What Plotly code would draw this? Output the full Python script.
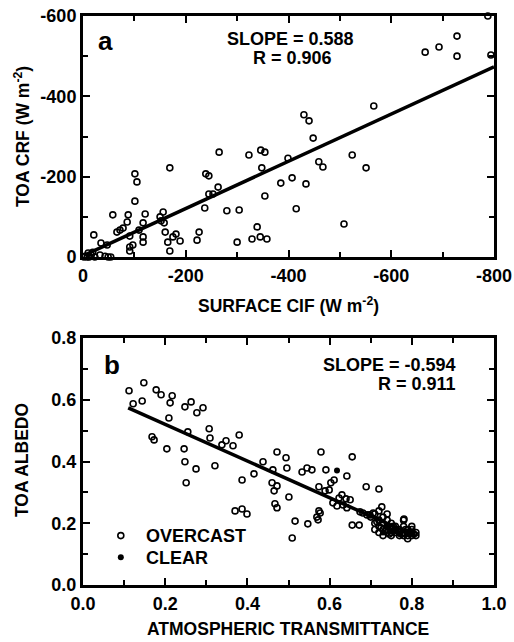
import numpy as np
import plotly.graph_objects as go

# ---------------- Panel a data ----------------
cif_x = [-2, -4, -8, -10, -12, -16, -19, -23, -33, -43, -49, -54,
         -21, -35, -47, -58, -66, -72, -78, -86, -88, -91, -91, -91, -97,
         -101, -105, -101, -109, -117, -121, -117, -117, -150, -152, -156, -158,
         -160, -165, -169, -169, -175, -181, -189, -222, -226, -237, -239, -245,
         -245, -253, -263, -265, -280, -300, -304, -323, -329, -339, -345, -346,
         -348, -354, -354, -358, -385, -399, -407, -415, -434, -430, -440, -448,
         -459, -467, -508, -524, -551, -566, -666, -693, -728, -728, -788, -794]
crf_y = [0, -2, 0, -10, 0, -5, -12, 0, -5, -2, 0, 0,
         -55, -35, -30, -105, -62, -67, -72, -87, -105, -52, -25, -15, -30,
         -207, -187, -139, -67, -85, -107, -50, -37, -100, -90, -112, -85,
         -62, -37, -15, -222, -50, -57, -40, -42, -62, -122, -207, -202,
         -157, -157, -174, -261, -115, -37, -117, -254, -45, -75, -50, -266,
         -222, -261, -152, -45, -184, -246, -197, -120, -182, -354, -339, -296,
         -237, -224, -82, -254, -222, -376, -510, -523, -550, -500, -600, -503]
fit_a = dict(slope=0.588, intercept=-3.0, x0=-5, x1=-800)
ticks_a_x = [0, -200, -400, -600, -800]
ticks_a_y = [0, -200, -400, -600]

# ---------------- Panel b data ----------------
ovc_x = [0.112, 0.122, 0.144, 0.148, 0.178, 0.190, 0.217, 0.212, 0.209, 0.248,
         0.263, 0.277, 0.292, 0.168, 0.173, 0.204, 0.246, 0.255, 0.248, 0.275,
         0.251, 0.307, 0.309, 0.321, 0.338, 0.348, 0.365, 0.380, 0.387, 0.416,
         0.438, 0.370, 0.387, 0.399, 0.460, 0.465, 0.472, 0.462, 0.472, 0.467,
         0.472, 0.494, 0.496, 0.501, 0.516, 0.547, 0.509, 0.533, 0.545, 0.557,
         0.579, 0.591, 0.569, 0.577, 0.574, 0.574, 0.589, 0.599, 0.611, 0.603,
         0.642, 0.655, 0.689, 0.720, 0.608, 0.623, 0.630, 0.640, 0.650, 0.618,
         0.633, 0.642, 0.655, 0.672, 0.674, 0.681, 0.691, 0.698, 0.706, 0.727,
         0.781, 0.572,
         0.70, 0.71, 0.71, 0.72, 0.72, 0.72, 0.73, 0.73, 0.73, 0.74,
         0.74, 0.74, 0.75, 0.75, 0.75, 0.76, 0.76, 0.76, 0.77, 0.77,
         0.77, 0.78, 0.78, 0.78, 0.79, 0.79, 0.79, 0.80, 0.80, 0.80,
         0.81, 0.81, 0.72, 0.73, 0.74, 0.71, 0.75, 0.78, 0.80, 0.79,
         0.715, 0.725, 0.735, 0.745, 0.755, 0.765, 0.775, 0.785, 0.795, 0.805]
ovc_y = [0.629, 0.587, 0.596, 0.655, 0.632, 0.616, 0.613, 0.590, 0.541, 0.577,
         0.593, 0.558, 0.574, 0.480, 0.470, 0.441, 0.441, 0.496, 0.399, 0.376,
         0.331, 0.506, 0.476, 0.386, 0.454, 0.467, 0.451, 0.486, 0.340, 0.360,
         0.399, 0.240, 0.246, 0.230, 0.331, 0.305, 0.321, 0.373, 0.431, 0.263,
         0.250, 0.412, 0.379, 0.285, 0.207, 0.198, 0.152, 0.366, 0.379, 0.373,
         0.431, 0.373, 0.220, 0.233, 0.240, 0.318, 0.305, 0.308, 0.340, 0.331,
         0.353, 0.415, 0.318, 0.311, 0.266, 0.282, 0.292, 0.279, 0.276, 0.256,
         0.259, 0.250, 0.194, 0.194, 0.237, 0.233, 0.227, 0.227, 0.233, 0.253,
         0.214, 0.211,
         0.22, 0.23, 0.20, 0.21, 0.19, 0.24, 0.20, 0.18, 0.22, 0.19,
         0.17, 0.21, 0.18, 0.20, 0.17, 0.19, 0.17, 0.18, 0.16, 0.18,
         0.17, 0.17, 0.19, 0.16, 0.18, 0.16, 0.17, 0.17, 0.16, 0.18,
         0.16, 0.17, 0.17, 0.16, 0.23, 0.18, 0.16, 0.21, 0.19, 0.15,
         0.205, 0.185, 0.175, 0.165, 0.19, 0.175, 0.165, 0.18, 0.17, 0.165]
clr_x = [0.618, 0.73, 0.75, 0.77, 0.79, 0.80, 0.76, 0.74]
clr_y = [0.371, 0.17, 0.175, 0.165, 0.165, 0.17, 0.18, 0.19]
fit_b = dict(slope=-0.594, intercept=0.639, x0=0.11, x1=0.81)
ticks_b_x = [0.0, 0.2, 0.4, 0.6, 0.8, 1.0]
ticks_b_y = [0.0, 0.2, 0.4, 0.6, 0.8]

W, H = 514, 642
FONT = "Liberation Sans"


def px_x(p):
    return p / W


def px_y(p):
    return 1 - p / H


fig = go.Figure()

mk_open = dict(symbol="circle-open", size=6, color="black", line=dict(width=1.6, color="black"))

fig.add_trace(go.Scatter(x=cif_x, y=crf_y, mode="markers", marker=mk_open,
                         xaxis="x", yaxis="y", cliponaxis=False, showlegend=False))
la_x = np.array([fit_a["x0"], fit_a["x1"]])
fig.add_trace(go.Scatter(x=la_x, y=fit_a["slope"] * la_x + fit_a["intercept"], mode="lines",
                         line=dict(color="black", width=3.5), xaxis="x", yaxis="y", showlegend=False))

fig.add_trace(go.Scatter(x=ovc_x, y=ovc_y, mode="markers", marker=mk_open,
                         xaxis="x2", yaxis="y2", cliponaxis=False, showlegend=False))
fig.add_trace(go.Scatter(x=clr_x, y=clr_y, mode="markers",
                         marker=dict(symbol="circle", size=6, color="black"),
                         xaxis="x2", yaxis="y2", cliponaxis=False, showlegend=False))
lb_x = np.array([fit_b["x0"], fit_b["x1"]])
fig.add_trace(go.Scatter(x=lb_x, y=fit_b["slope"] * lb_x + fit_b["intercept"], mode="lines",
                         line=dict(color="black", width=3.5), xaxis="x2", yaxis="y2", showlegend=False))

tickfont = dict(family=FONT, size=18, color="black", weight="bold")
common = dict(showline=True, linewidth=3, linecolor="black", mirror="ticks",
              ticks="inside", ticklen=7, tickwidth=2, tickcolor="black", automargin=False,
              showgrid=False, zeroline=False, tickfont=tickfont, ticklabeloverflow="allow")
minor_common = dict(ticks="inside", ticklen=5, tickwidth=2, tickcolor="black")


def fmt_a(v):
    return "%d" % v


fig.update_layout(
    template="none",
    width=W, height=H, autosize=False,
    margin=dict(l=0, r=0, t=0, b=0, pad=0),
    paper_bgcolor="white", plot_bgcolor="white",
    xaxis=dict(domain=[px_x(83), px_x(494)], range=[0, -800], anchor="y",
               tickvals=ticks_a_x, ticktext=[fmt_a(v) for v in ticks_a_x],
               minor=dict(tickvals=[-100, -300, -500, -700], **minor_common),
               **common),
    yaxis=dict(domain=[px_y(257), px_y(16)], range=[0, -600], anchor="x",
               tickvals=ticks_a_y, ticktext=[fmt_a(v) for v in ticks_a_y],
               minor=dict(tickvals=[-100, -300, -500], **minor_common),
               **common),
    xaxis2=dict(domain=[px_x(83), px_x(494)], range=[0, 1.0], anchor="y2",
                tickvals=ticks_b_x, ticktext=["%.1f" % v for v in ticks_b_x],
                minor=dict(tickvals=[0.1, 0.3, 0.5, 0.7, 0.9], **minor_common),
                **common),
    yaxis2=dict(domain=[px_y(585), px_y(338)], range=[0, 0.8], anchor="x2",
                tickvals=ticks_b_y, ticktext=["%.1f" % v for v in ticks_b_y],
                minor=dict(tickvals=[0.1, 0.3, 0.5, 0.7], **minor_common),
                **common),
)


def ann(text, x, y, size=16, xanchor="center", yanchor="middle", angle=0):
    fig.add_annotation(text=text, x=px_x(x), y=px_y(y), xref="paper", yref="paper",
                       showarrow=False, xanchor=xanchor, yanchor=yanchor, textangle=angle,
                       font=dict(family=FONT, size=size, color="black", weight="bold"))


# axis titles
ann("TOA CRF (W m<sup>-2</sup>)", 22, 137, size=17.5, angle=-90)
ann("SURFACE CIF (W m<sup>-2</sup>)", 288, 305, size=17.5)
ann("TOA ALBEDO", 22, 460, size=17.5, angle=-90)
ann("ATMOSPHERIC TRANSMITTANCE", 288, 629, size=17.5)

# panel labels and stats
ann("a", 105, 41, size=26)
ann("SLOPE = 0.588", 290, 39, size=18)
ann("R = 0.906", 292, 58, size=18)
ann("b", 112, 365, size=26)
ann("SLOPE = -0.594", 458, 365, size=18, xanchor="right")
ann("R = 0.911", 458, 384, size=18, xanchor="right")

# legend
fig.add_trace(go.Scatter(x=[0.092], y=[0.16], mode="markers", marker=mk_open,
                         xaxis="x2", yaxis="y2", showlegend=False))
fig.add_trace(go.Scatter(x=[0.092], y=[0.09], mode="markers",
                         marker=dict(symbol="circle", size=6, color="black"),
                         xaxis="x2", yaxis="y2", showlegend=False))
ann("OVERCAST", 144, 536, size=18, xanchor="left")
ann("CLEAR", 144, 558, size=18, xanchor="left")

fig.write_html("out.html", config={"displayModeBar": False},
               post_script="document.body.style.margin='0px';")
